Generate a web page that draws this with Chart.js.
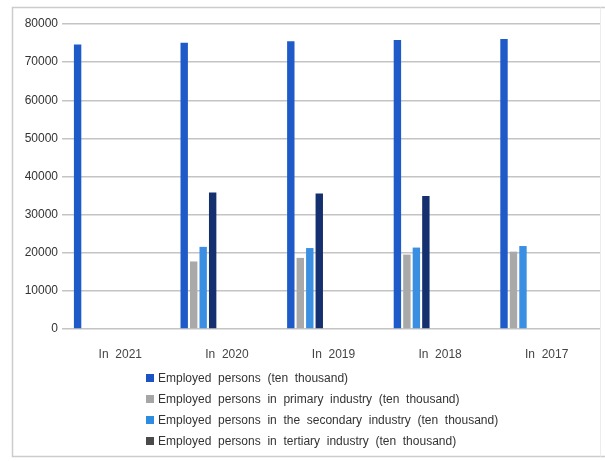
<!DOCTYPE html>
<html>
<head>
<meta charset="utf-8">
<script src="https://cdn.jsdelivr.net/npm/chart.js@4"></script>
<style>
    html, body { margin: 0; padding: 0; background: #fff; }
</style>
</head>
<body>
<canvas id="chart" width="605" height="461"></canvas>
<script>
// Chart data
const categories = ['In  2021', 'In  2020', 'In  2019', 'In  2018', 'In  2017'];
const totalEmployed = [74652, 75064, 75447, 75782, 76058];
const primaryIndustry = [null, 17715, 18652, 19515, 20295];
const secondaryIndustry = [null, 21543, 21234, 21356, 21762];
const tertiaryIndustry = [null, 35806, 35561, 34911, null];
const seriesNames = [
    'Employed  persons  (ten  thousand)',
    'Employed  persons  in  primary  industry  (ten  thousand)',
    'Employed  persons  in  the  secondary  industry  (ten  thousand)',
    'Employed  persons  in  tertiary  industry  (ten  thousand)'
];
const yTicks = [0, 10000, 20000, 30000, 40000, 50000, 60000, 70000, 80000];

const barColors = ['#1f5bc8', '#a9a9a9', '#3a8fe3', '#15306f'];
const legendColors = ['#1b53c4', '#a6a6a6', '#2d8ce0', '#4a4a4a'];
const FONT = '"Liberation Sans", Arial, sans-serif';

// Build datasets; the original left empty slots after the four series
const seriesValues = [totalEmployed, primaryIndustry, secondaryIndustry, tertiaryIndustry];
const datasets = seriesValues.map((values, i) => ({
    label: seriesNames[i],
    data: values,
    backgroundColor: barColors[i],
    borderWidth: 0
}));
for (let i = 0; i < 6; i++) {
    datasets.push({ label: 'spacer' + i, data: [], backgroundColor: 'rgba(0,0,0,0)' });
}

// Frame around the picture
const framePlugin = {
    id: 'frame',
    beforeDraw(chart) {
        const ctx = chart.ctx;
        ctx.save();
        ctx.fillStyle = '#fff';
        ctx.fillRect(0, 0, chart.width, chart.height);
        ctx.strokeStyle = '#cccccc';
        ctx.lineWidth = 1.5;
        ctx.beginPath();
        ctx.moveTo(605, 7.5);
        ctx.lineTo(12.5, 7.5);
        ctx.lineTo(12.5, 456.5);
        ctx.lineTo(605, 456.5);
        ctx.stroke();
        ctx.strokeStyle = '#ececec';
        ctx.lineWidth = 1;
        ctx.beginPath();
        ctx.moveTo(600.5, 7.5);
        ctx.lineTo(600.5, 456.5);
        ctx.stroke();
        ctx.restore();
    }
};

// Legend as a single left-aligned column under the plot
const listLegend = {
    id: 'listLegend',
    afterDraw(chart) {
        const ctx = chart.ctx;
        ctx.save();
        ctx.font = '12px ' + FONT;
        ctx.textBaseline = 'middle';
        seriesNames.forEach((name, i) => {
            const y = 378 + i * 21;
            ctx.fillStyle = legendColors[i];
            ctx.fillRect(146, y - 4, 8, 8);
            ctx.fillStyle = '#333';
            ctx.fillText(name, 158, y + 1);
        });
        ctx.restore();
    }
};

new Chart(document.getElementById('chart'), {
    type: 'bar',
    data: {
        labels: categories,
        datasets: datasets
    },
    options: {
        responsive: false,
        animation: false,
        layout: { padding: { top: 24, right: 5, left: 0, bottom: 0 } },
        datasets: {
            bar: { categoryPercentage: 0.89, barPercentage: 0.78 }
        },
        plugins: {
            legend: { display: false },
            tooltip: { enabled: false }
        },
        scales: {
            x: {
                grid: { display: false },
                border: { display: false },
                ticks: { color: '#444', font: { size: 12, family: FONT }, padding: 10 },
                afterFit(scale) { scale.height = 132; }
            },
            y: {
                min: 0,
                max: 80000,
                afterBuildTicks(scale) { scale.ticks = yTicks.map(v => ({ value: v })); },
                grid: { color: '#c4c4c4', lineWidth: 1.5, tickLength: 5 },
                border: { display: false },
                ticks: {
                    color: '#333',
                    font: { size: 12, family: FONT },
                    padding: 4,
                    callback: value => String(value)
                },
                afterFit(scale) { scale.width = 67; }
            }
        }
    },
    plugins: [framePlugin, listLegend]
});
</script>
</body>
</html>
